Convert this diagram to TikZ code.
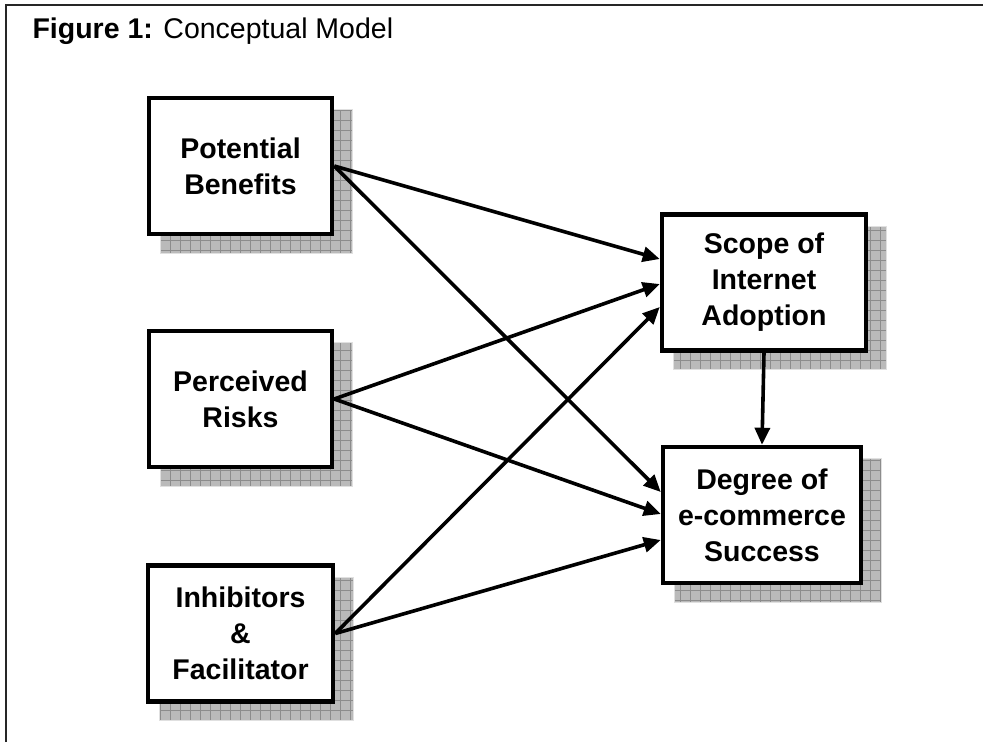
\documentclass[tikz,border=0pt]{standalone}
\usepackage{fontspec}
\setmainfont{Liberation Sans}
\usetikzlibrary{arrows.meta,calc,backgrounds}

\tikzset{
  concept/.style={draw=black, line width=4.5pt, fill=white, align=center,
    inner sep=0pt, minimum width=183pt, minimum height=136pt,
    font=\fontsize{28.5}{36}\selectfont\bfseries},
  link/.style={line width=3.6pt, -{Triangle[length=17pt,width=15pt]}},
  frameline/.style={line width=2.2pt, draw=black!85},
  shadowfill/.style={fill=black!27},
  shadowgrid/.style={draw=black!45, line width=0.6pt},
}

% hatched drop shadow behind a box, drawn on the background layer
\newcommand\gridshadow[1]{%
  \begin{scope}[on background layer]
    \begin{scope}
      \clip ($(#1.north west)+(14,14)$) rectangle ($(#1.south east)+(18,17)$);
      \fill[shadowfill] ($(#1.north west)+(14,14)$) rectangle ($(#1.south east)+(18,17)$);
      \draw[shadowgrid, step=10pt] ($(#1.north west)+(0,0)$) grid ($(#1.south east)+(30,30)$);
    \end{scope}
    \draw[black!12, line width=0.8pt] ($(#1.north west)+(14,14)$) rectangle ($(#1.south east)+(18,17)$);
  \end{scope}%
}

\begin{document}
\begin{tikzpicture}[x=1pt, y=-1pt]
  \useasboundingbox (0,0) rectangle (983,742);

  % open frame (top and left edges)
  \draw[frameline] (6,742) -- (6,5) -- (983,5);

  \node[anchor=base west, font=\fontsize{28.5}{33}\selectfont] (title) at (29,38)
    {\textbf{Figure 1:} Conceptual Model};

  % factor boxes
  \node[concept] (pb) at (240.5,166) {Potential\\Benefits};
  \node[concept] (pr) at (240.5,399) {Perceived\\Risks};
  \node[concept, minimum width=185pt] (inh) at (240.5,633.5) {Inhibitors\\\&\\Facilitator};

  % outcome boxes
  \node[concept, minimum width=204pt] (scope) at (764,282.5) {Scope of\\Internet\\Adoption};
  \node[concept, minimum width=198pt] (succ) at (762,515) {Degree of\\e-commerce\\Success};

  \gridshadow{pb}
  \gridshadow{pr}
  \gridshadow{inh}
  \gridshadow{scope}
  \gridshadow{succ}

  % paths to adoption scope
  \draw[link] (pb.east)  -- ([yshift=23.5pt]scope.west);
  \draw[link] (pr.east)  -- ([yshift=-1.5pt]scope.west);
  \draw[link] (inh.east) -- ([yshift=-24.5pt]scope.west);

  % paths to e-commerce success
  \draw[link] (pb.east)  -- ([yshift=23pt]succ.west);
  \draw[link] (pr.east)  -- ([yshift=1pt]succ.west);
  \draw[link] (inh.east) -- ([yshift=-25pt]succ.west);

  % adoption drives success
  \draw[link] (scope.south) -- (succ.north);
\end{tikzpicture}
\end{document}
